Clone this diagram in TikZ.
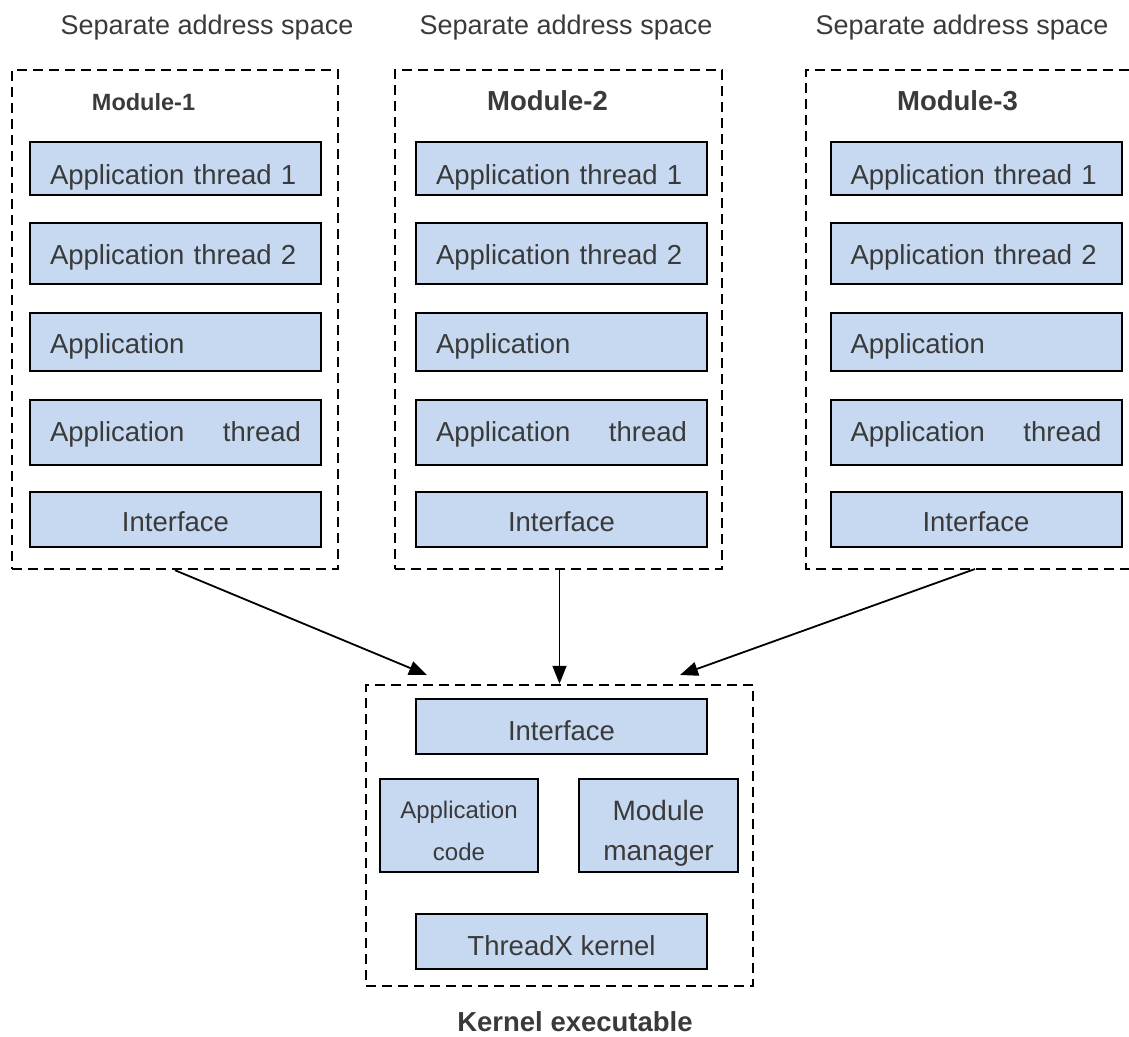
\documentclass[tikz,border=0pt]{standalone}
\usepackage{fontspec}
\setmainfont{Liberation Sans}
\usetikzlibrary{arrows.meta}
\definecolor{boxblue}{HTML}{C6D9F1}
\definecolor{txt}{HTML}{3A3A3A}
\begin{document}
\begin{tikzpicture}[x=1pt,y=-1pt,
  dashbox/.style={draw=black, line width=2.5pt, dash pattern=on 10pt off 6pt, inner sep=0pt},
  blk/.style={draw=black, line width=2pt, fill=boxblue, inner sep=0pt, text=txt,
    font=\fontsize{27.5}{33}\selectfont, text depth=6pt, minimum width=291pt},
  lbox/.style={blk, text width=251pt, align=left},
  cbox/.style={blk, align=center},
  lbl/.style={text=txt, inner sep=0pt, anchor=base},
  arr/.style={line width=1.8pt, -{Triangle[length=18pt,width=14pt]}}
]
\useasboundingbox (0,0) rectangle (1129,1036);

% top labels
\node[lbl, font=\fontsize{27}{32}\selectfont] (sep1) at (207,34) {Separate address space};
\node[lbl, font=\fontsize{27}{32}\selectfont] (sep2) at (566,34) {Separate address space};
\node[lbl, font=\fontsize{27}{32}\selectfont] (sep3) at (962,34) {Separate address space};

% module containers
\node[dashbox, minimum width=326pt, minimum height=499pt] (mod1) at (175,319.5) {};
\node[dashbox, minimum width=327pt, minimum height=499pt] (mod2) at (558.5,319.5) {};
\draw[dashbox] (1129,70) -- (806,70) -- (806,569) -- (1129,569);
\coordinate (m3s) at (975,569);

% module labels
\node[lbl, font=\bfseries\fontsize{23.5}{28}\selectfont] (lab1) at (143.5,110) {Module-1};
\node[lbl, font=\bfseries\fontsize{27.5}{33}\selectfont] (lab2) at (547.5,110.5) {Module-2};
\node[lbl, font=\bfseries\fontsize{27.5}{33}\selectfont] (lab3) at (957.5,110) {Module-3};

% module rows
\foreach \m/\cx in {1/175.5, 2/561.5, 3/976} {
  \node[lbox, minimum height=53pt, text height=37pt] (m\m-t1) at (\cx,168.5) {Application thread 1};
  \node[lbox, minimum height=61pt, text height=27pt] (m\m-t2) at (\cx,253.5) {Application thread 2};
  \node[lbox, minimum height=58pt, text height=28pt] (m\m-ap) at (\cx,342) {Application};
  \node[lbox, minimum height=65pt, text height=24pt] (m\m-at) at (\cx,432.5) {\hbox to 251pt{Application\hfill thread}};
  \node[cbox, minimum height=55pt, text height=30pt] (m\m-if) at (\cx,519.5) {Interface};
}

% kernel
\node[dashbox, minimum width=387pt, minimum height=301pt] (kern) at (559.5,835.5) {};
\node[cbox, minimum height=55pt, text height=33pt] (kif) at (561.5,726.5) {Interface};
\node[blk, minimum width=158pt, minimum height=93pt, align=center,
  font=\fontsize{24}{42}\selectfont, text height=69pt, text depth=0pt] (kapp) at (459,825.5) {Application\\code};
\node[blk, minimum width=159pt, minimum height=93pt, align=center,
  font=\fontsize{28}{40}\selectfont, text height=69pt, text depth=0pt] (kmm) at (658.5,825.5) {Module\\manager};
\node[cbox, minimum height=55pt, text height=33pt] (ktx) at (561.5,941.5) {ThreadX kernel};
\node[lbl, font=\bfseries\fontsize{27.5}{33}\selectfont] (kexe) at (575,1031) {Kernel executable};

% arrows
\coordinate (k1) at (427,675);
\coordinate (k3) at (680,675);
\draw[arr] (mod1.south) -- (k1);
\draw[arr] (mod2.south -| kern.north) -- (kern.north);
\draw[arr] (m3s) -- (k3);
\end{tikzpicture}
\end{document}
